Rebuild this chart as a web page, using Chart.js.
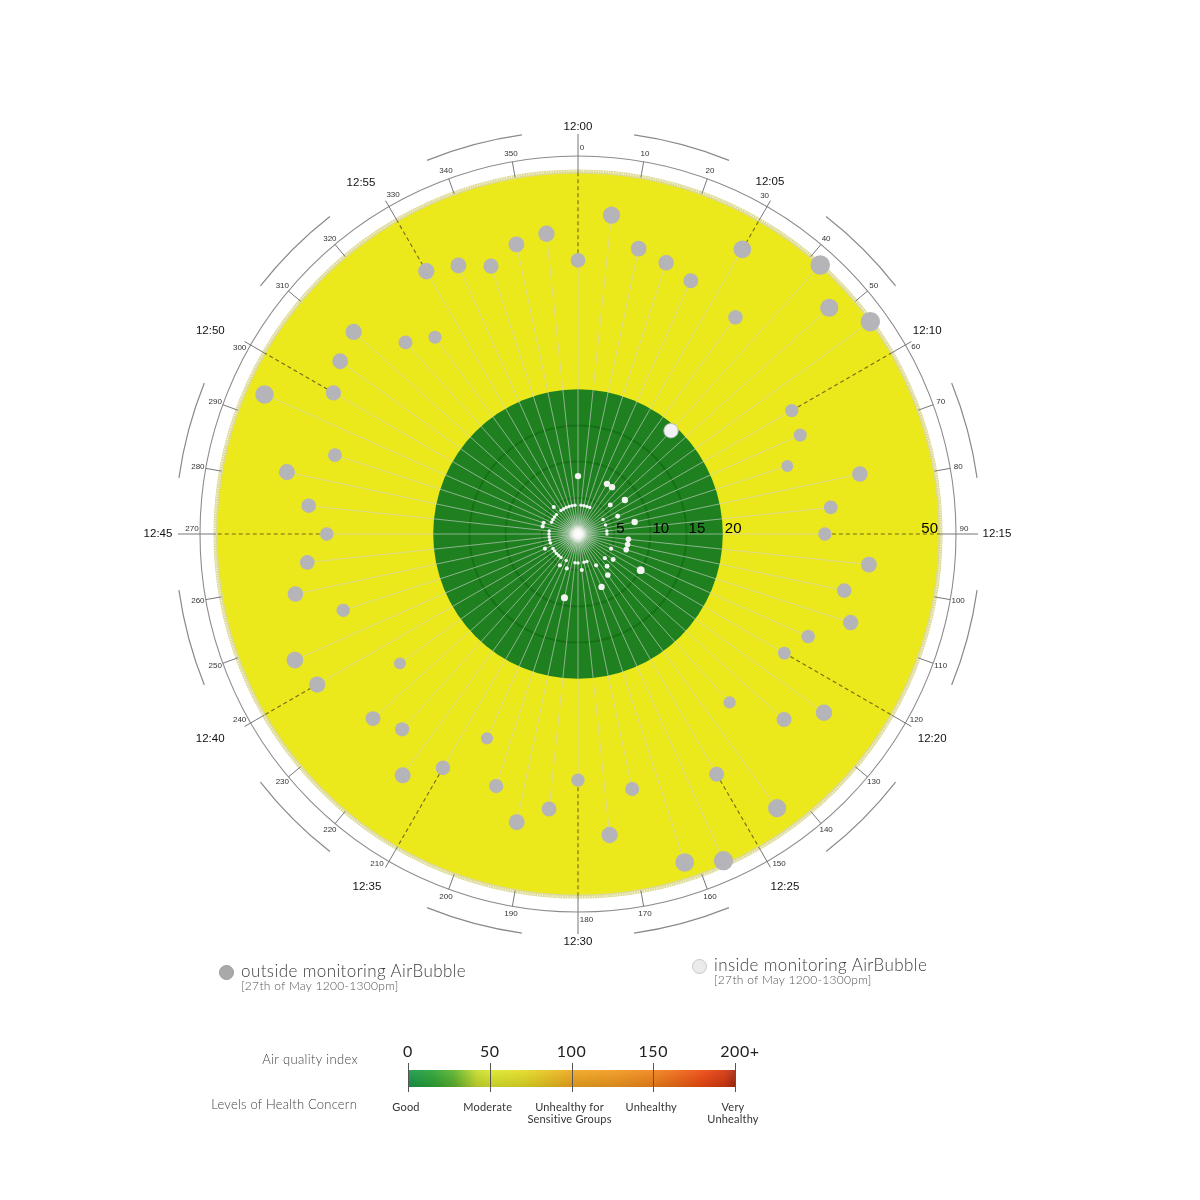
<!DOCTYPE html>
<html><head><meta charset="utf-8">
<script src="https://cdn.jsdelivr.net/npm/chart.js@4.4.1/dist/chart.umd.min.js"></script>
<style>
html,body{margin:0;padding:0;background:#fff;}
#wrap{position:relative;width:1200px;height:1200px;overflow:hidden;background:#fff;}
#c{position:absolute;left:0;top:0;}
.t{position:absolute;font-family:'Lato','Open Sans',sans-serif;font-weight:300;color:#444;white-space:nowrap;line-height:1;}
.dot{position:absolute;border-radius:50%;box-sizing:border-box;}
.tick{position:absolute;width:1px;background:#555;}
.ctr{transform:translateX(-50%);text-align:center;}
</style></head><body>
<div id="wrap">
<canvas id="c" width="1200" height="1200"></canvas>

<div class="dot" style="left:219px;top:965px;width:15px;height:15px;background:#a9a9a9;border:1px solid #9b9b9b;"></div>
<div class="t" style="left:241px;top:962px;font-size:17px;letter-spacing:0.4px;color:#3d3d3d;">outside monitoring AirBubble</div>
<div class="t" style="left:241px;top:980px;font-size:12px;letter-spacing:0.3px;color:#555;">[27th of May 1200-1300pm]</div>

<div class="dot" style="left:692px;top:959px;width:15px;height:15px;background:#ebebeb;border:1px solid #c8c8c8;"></div>
<div class="t" style="left:714px;top:956px;font-size:17px;letter-spacing:0.4px;color:#3d3d3d;">inside monitoring AirBubble</div>
<div class="t" style="left:714px;top:974px;font-size:12px;letter-spacing:0.3px;color:#555;">[27th of May 1200-1300pm]</div>

<div class="t" style="right:842px;top:1053px;font-size:13px;letter-spacing:0.35px;color:#444;">Air quality index</div>
<div class="t" style="right:843px;top:1098px;font-size:13px;letter-spacing:0.2px;color:#444;">Levels of Health Concern</div>

<div id="bar" style="position:absolute;left:408px;top:1070px;width:327px;height:17px;background:linear-gradient(to right,#17994a 0%,#2ea535 8%,#5db42e 14%,#c6dc2c 21%,#dde82a 26%,#e3dc25 35%,#e9c31f 43%,#f0a71f 50%,#f39b1f 62%,#f2861b 74%,#f06a16 82%,#ef4a10 90%,#d5370f 97%,#a82a10 100%);"></div>
<div style="position:absolute;left:408px;top:1070px;width:327px;height:17px;background:linear-gradient(to bottom,rgba(255,255,255,0.08),rgba(0,0,0,0.12));"></div>
<div id="aqi"></div>
</div>
<script>
// ---- data ----
const MINUTES = [];
for (let m = 0; m < 60; m++) MINUTES.push('12:' + String(m).padStart(2, '0'));
const OUTSIDE = [37.8,44.3,40.3,39.4,38.3,45.4,37.0,50.0,46.7,49.9,
                 34.1,33.6,30.4,39.8,35.1,34.1,40.4,37.6,39.6,34.8,
                 32.9,42.0,38.3,31.3,46.8,38.3,49.4,47.7,36.0,41.8,
                 34.0,38.2,40.7,36.6,30.9,37.3,41.2,36.3,38.1,30.4,
                 41.6,42.8,34.1,39.9,37.6,34.7,37.4,41.1,35.3,47.4,
                 39.0,40.6,41.7,35.6,33.6,41.9,40.6,38.9,40.9,41.7];
const INSIDE = [8,4,4,4,4,8,8,19.2,6,8,
                4,6,4,8,4,4,7,7,7,5,
                10,6,5,6,7,5,8,4,4,5,
                4,4,9,5,4,5,4,4,4,4,
                4,5,4,4,4,4,4,5,5,4,
                4,4,4,5,4,4,4,4,4,4];
const RING_TICKS = [5,10,15,20];
const GOOD_LIMIT = 20;
const MAX_VALUE = 50;
const DEGREE_TICKS = [0,10,20,30,40,50,60,70,80,90,100,110,120,130,140,150,160,170,
                      180,190,200,210,220,230,240,250,260,270,280,290,300,310,320,330,340,350];
const TIME_LABELS = ['12:00','12:05','12:10','12:15','12:20','12:25','12:30','12:35','12:40','12:45','12:50','12:55'];
const AQI_TICKS = ['0','50','100','150','200+'];
const HEALTH_LEVELS = [['Good'],['Moderate'],['Unhealthy for','Sensitive Groups'],['Unhealthy'],['Very','Unhealthy']];

// ---- layout constants (label placement only) ----
const DEG_SIDE = [1,-1,1,-1,-1,-1,-1,1,1,1,-1,1];
const TIME_DIST = [45,39,42,57,47,47,46,49,59,58,58,51];
const TIME_NUDGE = [0,-1.4,-0.2,0,0,-0.4,0,0.9,0.9,0,-1.1,-1.7];

// ---- colour bar labels (HTML) ----
(function(){
  const holder = document.getElementById('aqi');
  const x0 = 408, w = 327;
  AQI_TICKS.forEach((t, i) => {
    const x = x0 + w * i / (AQI_TICKS.length - 1);
    const tk = document.createElement('div');
    tk.className = 'tick';
    tk.style.cssText = `left:${Math.round(x)}px;top:1063px;height:29px;`;
    holder.appendChild(tk);
    const lb = document.createElement('div');
    lb.className = 't';
    const base = t.replace('+', '');
    lb.style.cssText = `left:${x}px;top:1043px;font-size:16px;color:#222;font-weight:400;letter-spacing:0.5px;`;
    lb.innerHTML = `<span style="position:relative;display:inline-block;transform:translateX(-50%);">${base}<span style="position:absolute;left:100%;">${t.slice(base.length)}</span></span>`;
    holder.appendChild(lb);
    const hl = document.createElement('div');
    hl.className = 't ctr';
    hl.style.cssText = `left:${x - 2}px;top:1101px;font-size:11px;color:#333;font-weight:400;line-height:12px;letter-spacing:0.2px;`;
    hl.innerHTML = HEALTH_LEVELS[i].join('<br>');
    holder.appendChild(hl);
  });
})();

// ---- plugin drawing the rings, spokes and labels through the radial scale ----
const decor = {
  id: 'decor',
  beforeDraw(chart) {
    const s = chart.scales.r, ctx = chart.ctx;
    const xc = s.xCenter, yc = s.yCenter;
    const R = s.getDistanceFromCenterForValue(MAX_VALUE);
    const rg = s.getDistanceFromCenterForValue(GOOD_LIMIT);
    ctx.save();
    ctx.fillStyle = '#ffffff';
    ctx.fillRect(0, 0, chart.width, chart.height);
    ctx.beginPath(); ctx.arc(xc, yc, R, 0, Math.PI * 2);
    ctx.fillStyle = '#ebe81b'; ctx.fill();
    ctx.beginPath(); ctx.arc(xc, yc, R + 0.5, 0, Math.PI * 2);
    ctx.lineWidth = 4; ctx.strokeStyle = '#dcd99a'; ctx.stroke();
    ctx.setLineDash([1, 1.5]);
    ctx.beginPath(); ctx.arc(xc, yc, R + 1, 0, Math.PI * 2);
    ctx.lineWidth = 2; ctx.strokeStyle = 'rgba(250,248,215,0.9)'; ctx.stroke();
    ctx.setLineDash([]);
    ctx.beginPath(); ctx.arc(xc, yc, rg, 0, Math.PI * 2);
    ctx.fillStyle = '#1e801f'; ctx.fill();
    ctx.restore();
  },
  beforeDatasetsDraw(chart) {
    const s = chart.scales.r, ctx = chart.ctx;
    const xc = s.xCenter, yc = s.yCenter;
    ctx.save();
    ctx.lineWidth = 1;
    ctx.strokeStyle = 'rgba(210,210,210,0.62)';
    ctx.beginPath();
    OUTSIDE.forEach((v, i) => {
      const p = s.getPointPositionForValue(i, v);
      ctx.moveTo(xc, yc); ctx.lineTo(p.x, p.y);
    });
    ctx.stroke();
    ctx.setLineDash([4, 3]);
    ctx.lineWidth = 1.1;
    ctx.strokeStyle = 'rgba(95,85,25,0.85)';
    OUTSIDE.forEach((v, i) => {
      if (i % 5 !== 0) return;
      const a = s.getPointPositionForValue(i, v);
      const b = s.getPointPositionForValue(i, MAX_VALUE);
      ctx.beginPath(); ctx.moveTo(a.x, a.y); ctx.lineTo(b.x, b.y); ctx.stroke();
    });
    ctx.setLineDash([]);
    const g = ctx.createRadialGradient(xc, yc, 0, xc, yc, 22);
    g.addColorStop(0, 'rgba(255,255,255,1)');
    g.addColorStop(0.18, 'rgba(255,255,255,0.9)');
    g.addColorStop(0.45, 'rgba(255,255,255,0.3)');
    g.addColorStop(1, 'rgba(255,255,255,0)');
    ctx.fillStyle = g;
    ctx.beginPath(); ctx.arc(xc, yc, 22, 0, Math.PI * 2); ctx.fill();
    ctx.restore();
  },
  afterDraw(chart) {
    const s = chart.scales.r, ctx = chart.ctx;
    const xc = s.xCenter, yc = s.yCenter;
    const R = s.getDistanceFromCenterForValue(MAX_VALUE);
    const idx = deg => deg / (360 / MINUTES.length);
    ctx.save();
    ctx.fillStyle = '#000';
    ctx.font = '15px "Liberation Sans", Arial, sans-serif';
    ctx.textBaseline = 'alphabetic';
    ctx.textAlign = 'left';
    RING_TICKS.forEach(v => {
      const p = s.getPointPosition(idx(90), s.getDistanceFromCenterForValue(v) + 2);
      ctx.fillText(String(v), p.x, yc - 1);
    });
    ctx.textAlign = 'right';
    const p50 = s.getPointPosition(idx(90), R - 2);
    ctx.fillText(String(MAX_VALUE), p50.x, yc - 1);

    ctx.strokeStyle = '#8c8c8c'; ctx.lineWidth = 1.1;
    ctx.beginPath(); ctx.arc(xc, yc, R + 16, 0, Math.PI * 2); ctx.stroke();
    ctx.strokeStyle = '#8a8a8a'; ctx.lineWidth = 1.2;
    TIME_LABELS.forEach((t, k) => {
      const c = k * 30 + 15;
      const a0 = s.getIndexAngle(idx(c - 7)) - Math.PI / 2;
      const a1 = s.getIndexAngle(idx(c + 7)) - Math.PI / 2;
      ctx.beginPath(); ctx.arc(xc, yc, R + 41, a0, a1); ctx.stroke();
    });
    ctx.strokeStyle = '#777'; ctx.lineWidth = 1;
    DEGREE_TICKS.forEach(d => {
      let end = R + 16;
      if (d % 30 === 0) end = (d % 90 === 0) ? R + 38 : R + 23;
      const a = s.getPointPosition(idx(d), R);
      const b = s.getPointPosition(idx(d), end);
      ctx.beginPath(); ctx.moveTo(a.x, a.y); ctx.lineTo(b.x, b.y); ctx.stroke();
    });
    ctx.font = '8px "Liberation Sans", Arial, sans-serif';
    ctx.fillStyle = '#333';
    ctx.textAlign = 'center'; ctx.textBaseline = 'middle';
    DEGREE_TICKS.forEach(d => {
      const p = s.getPointPosition(idx(d), R + 24);
      let x = p.x, y = p.y;
      if (d % 30 === 0) {
        const th = d * Math.PI / 180;
        const tx = Math.cos(th), ty = Math.sin(th);
        const w = ctx.measureText(String(d)).width;
        const off = Math.abs(tx) * w / 2 + Math.abs(ty) * 3.5 + 1.8;
        const side = DEG_SIDE[d / 30];
        x += side * tx * off; y += side * ty * off;
      }
      ctx.fillText(String(d), x, y);
    });
    ctx.font = '11.5px "Liberation Sans", Arial, sans-serif';
    ctx.fillStyle = '#111';
    TIME_LABELS.forEach((t, k) => {
      const p = s.getPointPosition(idx(k * 30 + TIME_NUDGE[k]), R + TIME_DIST[k]);
      ctx.fillText(t, p.x, p.y);
    });
    ctx.restore();
  }
};

new Chart(document.getElementById('c'), {
  type: 'radar',
  data: {
    labels: MINUTES,
    datasets: [
      {
        label: 'inside monitoring AirBubble',
        data: INSIDE,
        showLine: false, fill: false, borderWidth: 0, borderColor: 'transparent',
        pointBackgroundColor: '#f3f3f3',
        pointBorderColor: ctx => (ctx.raw > 15 ? '#bdbdbd' : 'rgba(0,0,0,0)'),
        pointBorderWidth: 1,
        pointRadius: ctx => 0.36 * ctx.raw + 0.3
      },
      {
        label: 'outside monitoring AirBubble',
        data: OUTSIDE,
        showLine: false, fill: false, borderWidth: 0, borderColor: 'transparent',
        pointBackgroundColor: '#b4b4b9',
        pointBorderColor: 'rgba(0,0,0,0)',
        pointBorderWidth: 0,
        pointRadius: ctx => 0.195 * ctx.raw
      }
    ]
  },
  options: {
    responsive: false,
    animation: false,
    events: [],
    devicePixelRatio: 1,
    layout: { padding: { left: 216, right: 260, top: 172, bottom: 304 } },
    plugins: { legend: { display: false }, tooltip: { enabled: false } },
    scales: {
      r: {
        min: 0, max: MAX_VALUE,
        startAngle: 0,
        ticks: { display: false, stepSize: 5 },
        pointLabels: { display: false },
        angleLines: { display: false },
        grid: {
          circular: true,
          lineWidth: 2,
          color: ctx => (RING_TICKS.includes(ctx.tick.value) && ctx.tick.value < GOOD_LIMIT ? '#147214' : 'rgba(0,0,0,0)')
        }
      }
    }
  },
  plugins: [decor]
});
</script>
</body></html>
